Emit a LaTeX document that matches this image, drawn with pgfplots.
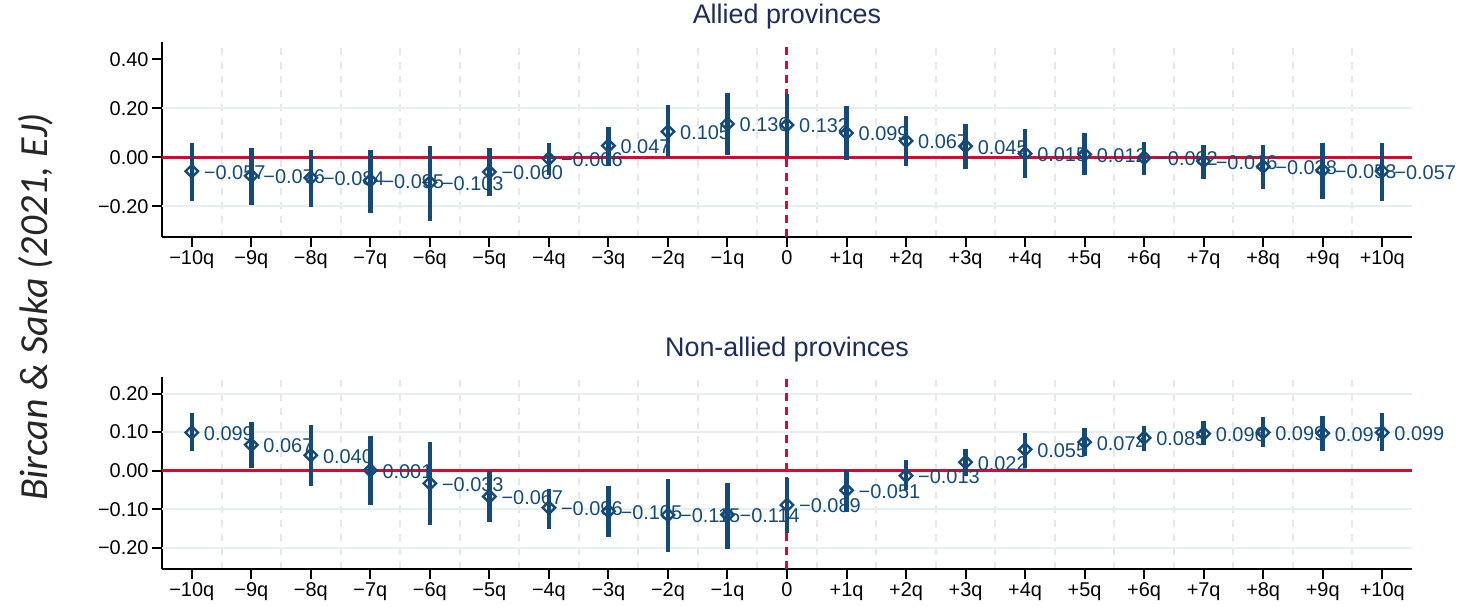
\documentclass[border=0pt]{standalone}
\usepackage{pgfplots}
\pgfplotsset{compat=1.18}
\usepackage{pgfplotstable}
\usepackage{fontspec}
\setmainfont{Liberation Sans}
\newfontfamily\sidefont{Carlito}
\definecolor{navy}{RGB}{20,74,122}
\definecolor{titlec}{RGB}{28,44,92}
\definecolor{redc}{RGB}{214,10,48}
\definecolor{gridc}{RGB}{230,238,240}
\definecolor{vgridc}{RGB}{226,232,235}

\pgfplotstableread{
x b lo hi lab
-10 -0.057 -0.178 0.059 −0.057
-9 -0.076 -0.194 0.038 −0.076
-8 -0.084 -0.205 0.031 −0.084
-7 -0.095 -0.226 0.031 −0.095
-6 -0.103 -0.259 0.045 −0.103
-5 -0.060 -0.160 0.038 −0.060
-4 -0.006 -0.072 0.059 −0.006
-3 0.047 -0.035 0.122 0.047
-2 0.105 0.000 0.212 0.105
-1 0.136 0.011 0.264 0.136
0 0.132 0.004 0.260 0.132
1 0.099 -0.012 0.209 0.099
2 0.067 -0.034 0.168 0.067
3 0.045 -0.048 0.137 0.045
4 0.015 -0.085 0.114 0.015
5 0.012 -0.074 0.097 0.012
6 -0.002 -0.071 0.062 −0.002
7 -0.016 -0.088 0.052 −0.016
8 -0.038 -0.130 0.052 −0.038
9 -0.053 -0.171 0.059 −0.053
10 -0.057 -0.178 0.059 −0.057
}\allied

\pgfplotstableread{
x b lo hi lab
-10 0.099 0.050 0.149 0.099
-9 0.067 0.008 0.127 0.067
-8 0.040 -0.039 0.119 0.040
-7 0.001 -0.089 0.091 0.001
-6 -0.033 -0.140 0.074 −0.033
-5 -0.067 -0.133 -0.001 −0.067
-4 -0.096 -0.150 -0.048 −0.096
-3 -0.105 -0.172 -0.041 −0.105
-2 -0.115 -0.210 -0.022 −0.115
-1 -0.114 -0.202 -0.031 −0.114
0 -0.089 -0.162 -0.020 −0.089
1 -0.051 -0.108 0.003 −0.051
2 -0.013 -0.050 0.029 −0.013
3 0.022 -0.014 0.057 0.022
4 0.055 0.008 0.097 0.055
5 0.074 0.038 0.110 0.074
6 0.085 0.050 0.117 0.085
7 0.096 0.066 0.129 0.096
8 0.099 0.061 0.138 0.099
9 0.097 0.052 0.142 0.097
10 0.099 0.050 0.149 0.099
}\nonallied

\pgfplotsset{
  evstyle/.style={
    scale only axis,
    width=1250bp,
    xmin=-10.5, xmax=10.5,
    axis lines*=left,
    axis line style={line width=2bp, black},
    tick align=outside,
    major tick length=10bp,
    tick style={line width=2bp, black},
    xtick={-10,...,10},
    xticklabels={−10q,−9q,−8q,−7q,−6q,−5q,−4q,−3q,−2q,−1q,0,+1q,+2q,+3q,+4q,+5q,+6q,+7q,+8q,+9q,+10q},
    ticklabel style={font=\fontsize{20}{24}\selectfont, text=black},
    minor x tick num=1,
    minor tick length=0pt,
    xminorgrids=true,
    minor grid style={draw=vgridc, line width=2bp, dash pattern=on 7bp off 7bp},
    major grid style={draw=gridc, line width=2bp, solid},
    extra y tick style={grid=major, major tick length=0pt},
    title style={font=\fontsize{27}{32}\selectfont, text=titlec, anchor=base, at={(0.5,1)}},
    clip=false,
  },
  labs/.style={draw=none, mark=none, nodes near coords, point meta=explicit symbolic,
    nodes near coords style={anchor=west, inner sep=0pt, xshift=12bp, yshift=-1bp, text=navy, font=\fontsize{20}{24}\selectfont}},
  cis/.style={draw=none, mark=none, error bars/.cd, y dir=both, y explicit, error mark=none,
    error bar style={line width=4.5bp, navy}},
  mk/.style={only marks, mark=square, mark size=4.4bp, mark options={solid, fill=white, draw=navy, line width=2.4bp, rotate=45}},
}

\begin{document}
\begin{tikzpicture}
\useasboundingbox (0,0) rectangle (1463bp,607bp);
\node[rotate=90, font=\sidefont\itshape\fontsize{40}{48}\selectfont, text=black!85] at (36bp,300bp) {Bircan \& Saka (2021, EJ)};

\begin{axis}[evstyle, at={(162bp,370bp)}, anchor=south west, height=195bp,
  ymin=-0.326, ymax=0.471,
  ytick={-0.2,0,0.2,0.4}, yticklabels={−0.20,0.00,0.20,0.40},
  extra y ticks={-0.2,0.2}, extra y tick labels={},
  title={Allied provinces}, title style={yshift=13bp}]
\addplot[redc, line width=3bp] coordinates {(-10.5,0) (10.5,0)};
\addplot[redc, line width=3bp, dash pattern=on 8bp off 6bp] coordinates {(0,-0.326) (0,0.471)};
\addplot[labs] table[x=x, y=b, meta=lab] {\allied};
\addplot[cis] table[x=x, y=b, y error plus expr=\thisrow{hi}-\thisrow{b}, y error minus expr=\thisrow{b}-\thisrow{lo}] {\allied};
\addplot[mk] table[x=x, y=b] {\allied};
\end{axis}

\begin{axis}[evstyle, at={(162bp,38bp)}, anchor=south west, height=192bp,
  ymin=-0.255, ymax=0.243,
  ytick={-0.2,-0.1,0,0.1,0.2}, yticklabels={−0.20,−0.10,0.00,0.10,0.20},
  extra y ticks={-0.2,-0.1,0.1,0.2}, extra y tick labels={},
  title={Non-allied provinces}, title style={yshift=15bp}]
\addplot[redc, line width=3bp] coordinates {(-10.5,0) (10.5,0)};
\addplot[redc, line width=3bp, dash pattern=on 8bp off 6bp] coordinates {(0,-0.255) (0,0.243)};
\addplot[labs] table[x=x, y=b, meta=lab] {\nonallied};
\addplot[cis] table[x=x, y=b, y error plus expr=\thisrow{hi}-\thisrow{b}, y error minus expr=\thisrow{b}-\thisrow{lo}] {\nonallied};
\addplot[mk] table[x=x, y=b] {\nonallied};
\end{axis}
\end{tikzpicture}
\end{document}
